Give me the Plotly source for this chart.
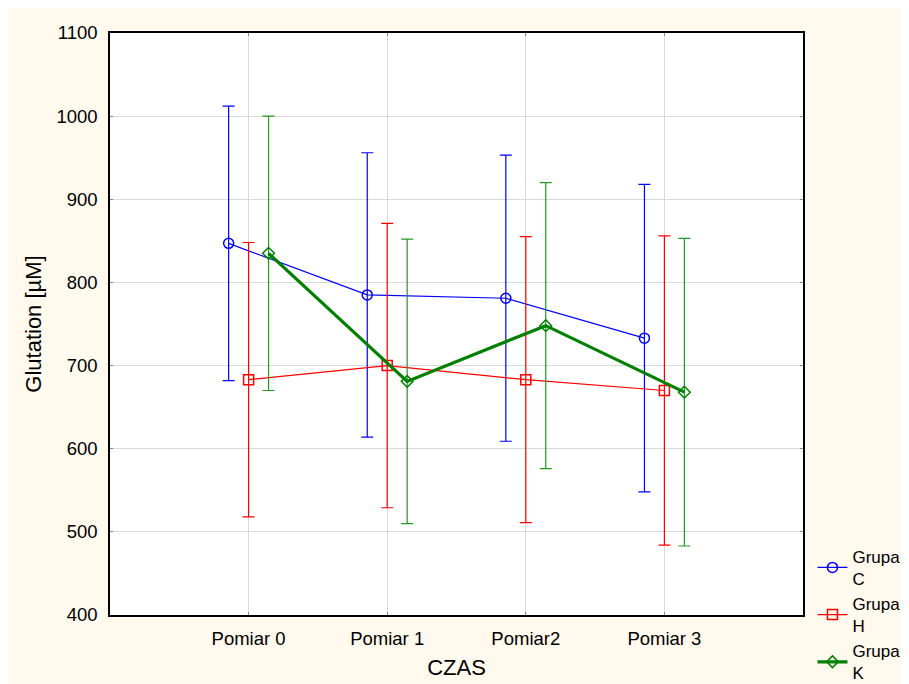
import plotly.graph_objects as go

categories = ["Pomiar 0", "Pomiar 1", "Pomiar2", "Pomiar 3"]
groups = ["Grupa<br>C", "Grupa<br>H", "Grupa<br>K"]

mean_C = [847, 785, 781, 733]
err_C = [165, 171, 172, 185]
mean_H = [683, 700, 683, 670]
err_H = [165, 171, 172, 186]
mean_K = [835, 681, 748, 668]
err_K = [165, 171, 172, 185]

y_ticks = [400, 500, 600, 700, 800, 900, 1000, 1100]

FONT = "Liberation Sans, Arial, sans-serif"
CREAM = "#FFF9EE"
FS = 18.5

series = [
    (groups[0], mean_C, err_C, "#0000FF", "#0000FF", 1.2, "circle-open", 10),
    (groups[1], mean_H, err_H, "#FF0000", "#FF0000", 1.2, "square-open", 10),
    (groups[2], mean_K, err_K, "#008000", "#229922", 3.2, "diamond-open", 9),
]

fig = go.Figure()
for i, (name, m, e, lc, ec, lw, sym, ms) in enumerate(series):
    fig.add_trace(go.Scatter(
        x=categories, y=m, name=name, mode="lines+markers",
        offsetgroup=str(i),
        line=dict(color=lc, width=lw),
        marker=dict(symbol=sym, size=ms, color=lc, line=dict(width=1.5, color=lc)),
        error_y=dict(type="data", array=e, visible=True, color=ec, thickness=1.2, width=6),
    ))

fig.update_layout(
    width=909, height=684,
    margin=dict(l=102, r=114, t=25, b=77, autoexpand=False),
    paper_bgcolor=CREAM,
    plot_bgcolor="white",
    scattermode="group",
    scattergap=0.568,
    font=dict(family=FONT, size=FS, color="black"),
    showlegend=True,
    legend=dict(xref="container", yref="container", x=0.885, y=0.224,
                xanchor="left", yanchor="top",
                bgcolor="rgba(0,0,0,0)", font=dict(size=17), tracegroupgap=0,
                itemwidth=30),
)
fig.update_xaxes(
    type="category", range=[-1, 4], automargin=False,
    showgrid=True, gridcolor="#D9D9D9", gridwidth=1,
    showline=True, linecolor="black", linewidth=1.5, mirror="ticks",
    ticks="inside", ticklen=3, tickcolor="#888888",
    ticklabelstandoff=6,
    title=dict(text="CZAS", standoff=12),
    tickfont=dict(size=FS),
)
fig.update_yaxes(
    range=[400, 1100], tickvals=y_ticks, automargin=False,
    showgrid=True, gridcolor="#D9D9D9", gridwidth=1, zeroline=False,
    showline=True, linecolor="black", linewidth=1.5, mirror="ticks",
    ticks="inside", ticklen=3, tickcolor="#888888",
    ticklabelstandoff=7,
    title=dict(text="Glutation [µM]", standoff=9),
    tickfont=dict(size=FS),
)

fig.write_html("out.html")
